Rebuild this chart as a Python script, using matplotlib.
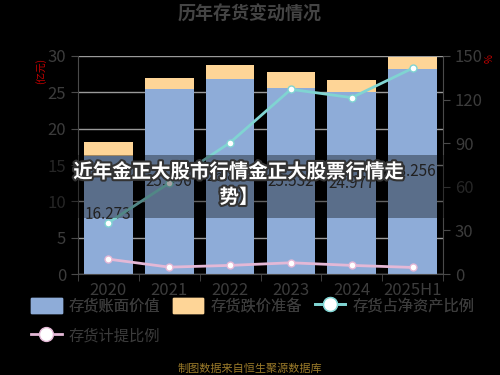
import matplotlib.pyplot as plt
import matplotlib.patheffects as pe
from matplotlib.lines import Line2D
from matplotlib.patches import Patch, Rectangle
import numpy as np

plt.rcParams['font.family'] = ['Noto Sans CJK SC', 'DejaVu Sans']

years = ['2020', '2021', '2022', '2023', '2024', '2025H1']
book_value = [16.273, 25.496, 26.8, 25.532, 24.977, 28.256]
reserve = [1.9, 1.4, 1.9, 2.3, 1.7, 1.6]
ratio_net = [35.3, 62.6, 90.4, 127.0, 121.3, 141.5]
ratio_prov = [10.3, 4.8, 6.0, 7.8, 6.0, 4.6]

blue = '#8eacd8'
orange = '#fed597'
cyan = '#80d4d2'
pink = '#e4b8d6'
txt = '#3c3c3c'

fig = plt.figure(figsize=(5, 3.75), dpi=100, facecolor='black')
ax = fig.add_axes([0.156, 0.269, 0.73, 0.582])
ax.set_facecolor('black')
x = np.arange(len(years))

ax.bar(x, book_value, width=0.8, color=blue, zorder=2)
ax.bar(x, reserve, width=0.8, bottom=book_value, color=orange, zorder=2)
for i, v in enumerate(book_value):
    ax.text(i, v / 2, '%.3f' % v, ha='center', va='center', fontsize=11, color='#333333', zorder=3)

ax.set_ylim(0, 30)
ax.set_xlim(-0.5, len(years) - 0.5)
ax.set_yticks([0, 5, 10, 15, 20, 25, 30])
ax.yaxis.grid(True, color='#9a9a9a', linewidth=1, zorder=0)
ax.set_xticks(x)
ax.set_xticklabels(years)
ax.set_xticks(np.arange(-0.5, len(years), 1), minor=True)
ax.tick_params(axis='x', which='major', length=0, labelsize=12, labelcolor=txt, pad=6)
ax.tick_params(axis='x', which='minor', length=5, color='#4a4a4a')
ax.tick_params(axis='y', labelsize=12, labelcolor=txt, color='#4a4a4a', length=5)
for s in ['top', 'right']:
    ax.spines[s].set_visible(False)
ax.spines['left'].set_color('#4a4a4a')
ax.spines['bottom'].set_color('#4a4a4a')

ax2 = ax.twinx()
ax2.set_ylim(0, 150)
ax2.set_yticks([0, 30, 60, 90, 120, 150])
ax2.plot(x, ratio_net, color=cyan, linewidth=2, marker='o', markersize=5,
         markerfacecolor='white', markeredgecolor=cyan, zorder=4)
ax2.plot(x, ratio_prov, color=pink, linewidth=2, marker='o', markersize=5,
         markerfacecolor='white', markeredgecolor=pink, zorder=4)
ax2.tick_params(axis='y', labelsize=12, labelcolor=txt, color='#4a4a4a', length=5)
for s in ['top', 'left', 'bottom']:
    ax2.spines[s].set_visible(False)
ax2.spines['right'].set_color('#4a4a4a')

fig.text(0.5, 0.962, '历年存货变动情况', ha='center', va='center', fontsize=13,
         fontweight='bold', color='#444444')
fig.text(0.082, 0.81, '(亿元)', ha='center', va='center', fontsize=7, color='#cc0000', rotation=90)
fig.text(0.98, 0.845, '%', ha='center', va='center', fontsize=7, color='#cc0000', rotation=90)

h_blue = Patch(facecolor=blue, edgecolor=blue)
h_orange = Patch(facecolor=orange, edgecolor=orange)
h_cyan = Line2D([0], [0], color=cyan, linewidth=2, marker='o', markersize=10,
                markerfacecolor='white', markeredgecolor=cyan)
h_pink = Line2D([0], [0], color=pink, linewidth=2, marker='o', markersize=10,
                markerfacecolor='white', markeredgecolor=pink)
leg_kw = dict(frameon=False, fontsize=11, labelcolor=txt, handlelength=2.0, handleheight=1.1,
              columnspacing=0.85, handletextpad=0.45, borderpad=0, borderaxespad=0)
leg1 = fig.legend([h_blue, h_orange, h_cyan], ['存货账面价值', '存货跌价准备', '存货占净资产比例'],
                  loc='center left', bbox_to_anchor=(0.062, 0.184), ncol=3, **leg_kw)
fig.add_artist(leg1)
fig.legend([h_pink], ['存货计提比例'], loc='center left', bbox_to_anchor=(0.062, 0.104), **leg_kw)

fig.text(0.5, 0.018, '制图数据来自恒生聚源数据库', ha='center', va='center', fontsize=8, color='#9a7a2a')

fig.patches.append(Rectangle((0, 0.419), 1, 0.168, transform=fig.transFigure,
                             facecolor='black', alpha=0.36, zorder=5))
fig.text(0.478, 0.541, '近年金正大股市行情金正大股票行情走', ha='center', va='center', fontsize=14,
         fontweight='bold', color='white', zorder=6,
         path_effects=[pe.withStroke(linewidth=3, foreground='#333333')])
fig.text(0.478, 0.473, '势】', ha='center', va='center', fontsize=14,
         fontweight='bold', color='white', zorder=6,
         path_effects=[pe.withStroke(linewidth=3, foreground='#333333')])

fig.savefig('out.png', dpi=100, facecolor='black')
